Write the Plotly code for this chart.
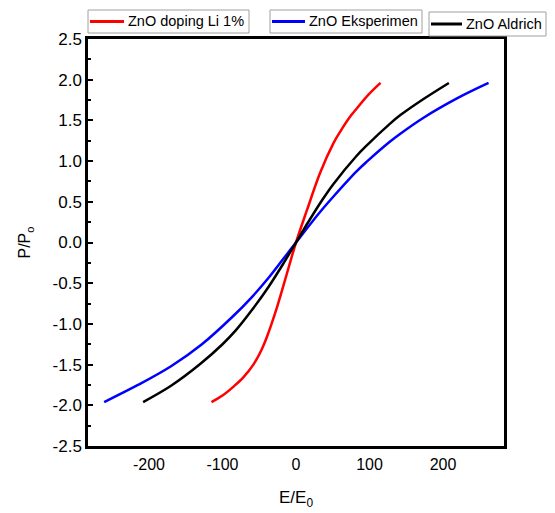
import plotly.graph_objects as go

# Data
red_x = [-115, -100, -85, -72, -58, -47, -40, -26, -13, 0, 15, 33, 51, 60, 74, 83, 98, 115]
red_y = [-1.96, -1.88, -1.77, -1.66, -1.50, -1.32, -1.17, -0.80, -0.40, 0.0,
         0.40, 0.86, 1.22, 1.36, 1.55, 1.65, 1.81, 1.96]

blue_x = [-261, -215, -170, -128, -85, -60, -37, -18, 0, 18, 37, 51, 82, 96, 128, 141, 173, 219, 262]
blue_y = [-1.96, -1.75, -1.52, -1.25, -0.90, -0.67, -0.43, -0.21, 0.0,
          0.21, 0.42, 0.565, 0.87, 0.99, 1.24, 1.33, 1.53, 1.77, 1.96]

black_x = [-208, -170, -130, -100, -82, -60, -37, -18, 0, 18, 37, 51, 82, 96, 128, 142, 173, 208]
black_y = [-1.96, -1.76, -1.49, -1.25, -1.08, -0.83, -0.54, -0.27, 0.0,
           0.27, 0.54, 0.72, 1.06, 1.19, 1.46, 1.565, 1.76, 1.96]

names = ["ZnO doping Li 1%", "ZnO Eksperimen", "ZnO Aldrich"]
colors = ["#ff0000", "#0000ff", "#000000"]
x_ticks = [-200, -100, 0, 100, 200]
x_labels = ["-200", "-100", "0", "100", "200"]
y_ticks = [-2.5, -2.0, -1.5, -1.0, -0.5, 0.0, 0.5, 1.0, 1.5, 2.0, 2.5]
y_labels = [f"{v:.1f}" for v in y_ticks]

FONT = "Liberation Sans, Arial, sans-serif"
W, H = 555, 513
OFF = 8  # page body margin offset of the rendered div

# plot area in screenshot pixels
PL, PR, PT, PB = 88, 504, 39, 446
ML, MR, MT, MB = PL - OFF, W - (PR - OFF), PT - OFF, H - (PB - OFF)
PW, PH = W - ML - MR, H - MT - MB


def px2paper_x(px):
    return (px - OFF - ML) / PW


def px2paper_y(py):
    return 1 - (py - OFF - MT) / PH


fig = go.Figure()
for xs, ys, nm, col in [(red_x, red_y, names[0], colors[0]),
                        (blue_x, blue_y, names[1], colors[1]),
                        (black_x, black_y, names[2], colors[2])]:
    fig.add_trace(go.Scatter(x=xs, y=ys, mode="lines", name=nm, showlegend=False,
                             line=dict(color=col, width=2.5, shape="spline")))

# separate legend boxes (as in the reference): box left, right, top, bottom, sample line end
legend_boxes = [(88, 249, 10, 33, 124), (270, 422, 10, 33, 305), (429, 546, 12, 36, 462)]
shapes = []
annotations = []
for (bl, br, bt, bb, le), nm, col in zip(legend_boxes, names, colors):
    shapes.append(dict(type="rect", xref="paper", yref="paper",
                       x0=px2paper_x(bl), x1=px2paper_x(br),
                       y0=px2paper_y(bb), y1=px2paper_y(bt),
                       line=dict(color="#a0a0a0", width=1), fillcolor="white", layer="above"))
    ymid = px2paper_y((bt + bb) / 2)
    shapes.append(dict(type="line", xref="paper", yref="paper",
                       x0=px2paper_x(bl + 2), x1=px2paper_x(le), y0=ymid, y1=ymid,
                       line=dict(color=col, width=3), layer="above"))
    annotations.append(dict(text=nm, xref="paper", yref="paper", x=px2paper_x(le + 2), y=ymid,
                            xanchor="left", yanchor="middle", showarrow=False,
                            font=dict(family=FONT, size=14.5, color="black")))

fig.update_layout(
    width=W, height=H,
    margin=dict(l=ML, r=MR, t=MT, b=MB, autoexpand=False),
    paper_bgcolor="white", plot_bgcolor="white",
    showlegend=False,
    shapes=shapes,
    annotations=annotations,
    xaxis=dict(range=[-283, 283], tickvals=x_ticks, ticktext=x_labels, ticks="",
               showgrid=False, zeroline=False, showline=True, linecolor="black",
               linewidth=2.5, mirror=True, ticklabelstandoff=2,
               tickfont=dict(family=FONT, size=16, color="black"),
               title=dict(text="E/E<sub>0</sub>", font=dict(family=FONT, size=17, color="black"),
                          standoff=20)),
    yaxis=dict(range=[-2.5, 2.5], tickvals=y_ticks, ticktext=y_labels,
               ticks="inside", ticklen=5, tickwidth=2, tickcolor="black",
               minor=dict(ticks="inside", ticklen=3, tickwidth=2, tickcolor="black", dtick=0.25,
                          showgrid=False),
               showgrid=False, zeroline=False, showline=True, linecolor="black", linewidth=2.5,
               mirror=True, ticklabelstandoff=0,
               tickfont=dict(family=FONT, size=17, color="black"),
               title=dict(text="P/P<sub>o</sub>", font=dict(family=FONT, size=16, color="black"),
                          standoff=18)),
)

fig.write_html("out.html")
